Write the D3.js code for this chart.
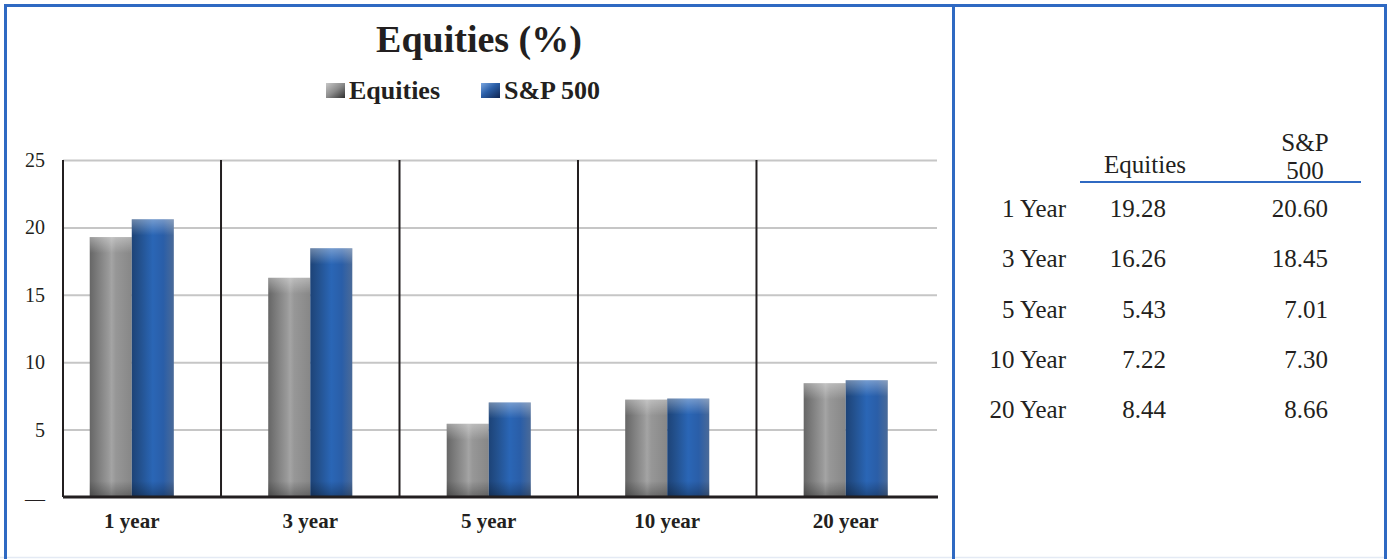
<!DOCTYPE html>
<html>
<head>
<meta charset="utf-8">
<script src="https://cdn.jsdelivr.net/npm/d3@7"></script>
<style>
  html, body { margin: 0; padding: 0; background: #ffffff; }
  svg { display: block; }
  svg text { font-family: "Liberation Serif", Tinos, "Times New Roman", Times, serif; fill: #231f20; }
</style>
</head>
<body>
<svg id="chart" width="1387" height="559"></svg>
<script>
// ---- data ----
const categories = ["1 year", "3 year", "5 year", "10 year", "20 year"];
const tableRows = ["1 Year", "3 Year", "5 Year", "10 Year", "20 Year"];
const seriesNames = ["Equities", "S&P 500"];
const equities = [19.28, 16.26, 5.43, 7.22, 8.44];
const sp500 = [20.60, 18.45, 7.01, 7.30, 8.66];
const yTicks = [0, 5, 10, 15, 20, 25];
const chartTitle = "Equities (%)";

const seriesValues = [equities, sp500];
const SERIF = "\"Liberation Serif\", Tinos, \"Times New Roman\", Times, serif";

const svg = d3.select("#chart").attr("font-family", SERIF);
const W = 1387, H = 559;

// ---- gradients ----
const defs = svg.append("defs");
function hGrad(id, stops) {
  const g = defs.append("linearGradient").attr("id", id)
    .attr("x1", "0").attr("y1", "0").attr("x2", "1").attr("y2", "0");
  stops.forEach(s => g.append("stop").attr("offset", s[0]).attr("stop-color", s[1]));
}
function vGrad(id, stops) {
  const g = defs.append("linearGradient").attr("id", id)
    .attr("x1", "0").attr("y1", "0").attr("x2", "0").attr("y2", "1");
  stops.forEach(s => g.append("stop").attr("offset", s[0]).attr("stop-color", s[1]).attr("stop-opacity", s[2]));
}
function dGrad(id, stops) {
  const g = defs.append("linearGradient").attr("id", id)
    .attr("x1", "0").attr("y1", "0").attr("x2", "1").attr("y2", "1");
  stops.forEach(s => g.append("stop").attr("offset", s[0]).attr("stop-color", s[1]));
}
hGrad("gGray", [[0, "#666666"], [0.18, "#7b7b7b"], [0.45, "#999999"], [0.52, "#a4a4a4"], [0.62, "#979797"], [1, "#878787"]]);
hGrad("gBlue", [[0, "#1d4377"], [0.2, "#23518e"], [0.5, "#2a66b6"], [0.75, "#2a5ea8"], [1, "#4a6a98"]]);
vGrad("gTopHi", [[0, "#ffffff", 0.35], [1, "#ffffff", 0]]);
vGrad("gBotDk", [[0, "#000000", 0], [1, "#000000", 0.3]]);
dGrad("gLegGray", [[0, "#c8c8c8"], [0.5, "#8a8a8a"], [1, "#2e2e2e"]]);
dGrad("gLegBlue", [[0, "#7aa6e0"], [0.45, "#2b5fa8"], [1, "#0f2450"]]);
const fills = ["url(#gGray)", "url(#gBlue)"];
const legendFills = ["url(#gLegGray)", "url(#gLegBlue)"];

// ---- frame ----
const frameColor = "#2f69c2";
svg.append("line").attr("x1", 0).attr("x2", W).attr("y1", 557.5).attr("y2", 557.5)
  .attr("stroke", "#e4eaf4").attr("stroke-width", 1.5);
svg.append("rect").attr("x", 5.5).attr("y", 5.5).attr("width", 1380).attr("height", 580)
  .attr("fill", "none").attr("stroke", frameColor).attr("stroke-width", 3);
svg.append("line").attr("x1", 953.5).attr("x2", 953.5).attr("y1", 5).attr("y2", H)
  .attr("stroke", frameColor).attr("stroke-width", 3);

// ---- chart ----
const plotL = 63, plotR = 937, plotT = 160, plotB = 497;
const y = d3.scaleLinear().domain([0, 25]).range([plotB, plotT]);
const x = d3.scaleBand().domain(categories).range([42.5, 935])
  .paddingInner(0.529).paddingOuter(0.2647);
const xs = d3.scaleBand().domain(seriesNames).range([0, x.bandwidth()]);

// gridlines
const grid = svg.append("g").attr("transform", `translate(${plotL},0)`)
  .call(d3.axisLeft(y).tickValues(yTicks.filter(d => d > 0)).tickSize(-(plotR - plotL)).tickFormat(""));
grid.select(".domain").remove();
grid.selectAll(".tick line").attr("stroke", "#c6c6c6").attr("stroke-width", 2);

// category dividers
const step = x.step();
svg.append("g").selectAll("line").data(categories.slice(0, -1)).join("line")
  .attr("x1", d => x(d) + x.bandwidth() / 2 + step / 2)
  .attr("x2", d => x(d) + x.bandwidth() / 2 + step / 2)
  .attr("y1", plotT).attr("y2", plotB)
  .attr("stroke", "#231f20").attr("stroke-width", 2);
svg.append("line").attr("x1", plotL).attr("x2", plotL).attr("y1", plotT).attr("y2", plotB)
  .attr("stroke", "#231f20").attr("stroke-width", 2);

// bars
const barData = [];
categories.forEach((c, i) => seriesNames.forEach((s, j) => barData.push({ c, s, j, v: seriesValues[j][i] })));
const bars = svg.append("g").selectAll("g").data(barData).join("g")
  .attr("transform", d => `translate(${x(d.c) + xs(d.s)},0)`);
bars.append("rect")
  .attr("x", 0).attr("width", xs.bandwidth())
  .attr("y", d => y(d.v)).attr("height", d => y(0) - y(d.v))
  .attr("fill", d => fills[d.j]);
bars.append("rect")
  .attr("x", 0).attr("width", xs.bandwidth())
  .attr("y", d => y(d.v)).attr("height", d => Math.min(16, y(0) - y(d.v)))
  .attr("fill", "url(#gTopHi)");
bars.append("rect")
  .attr("x", 0).attr("width", xs.bandwidth())
  .attr("y", d => y(0) - Math.min(16, y(0) - y(d.v))).attr("height", d => Math.min(16, y(0) - y(d.v)))
  .attr("fill", "url(#gBotDk)");

// baseline
svg.append("line").attr("x1", plotL).attr("x2", plotR + 1).attr("y1", plotB).attr("y2", plotB)
  .attr("stroke", "#231f20").attr("stroke-width", 3);

// y axis labels
const yAx = svg.append("g").attr("transform", "translate(45,0)")
  .call(d3.axisLeft(y).tickValues(yTicks).tickSize(0).tickPadding(0)
    .tickFormat(d => d === 0 ? "\u2014" : d));
yAx.attr("font-family", SERIF).attr("font-size", 20);
yAx.select(".domain").remove();
yAx.selectAll("text").attr("fill", "#231f20");
yAx.selectAll(".tick").filter(d => d === 0).select("text").attr("dy", "0.4em").attr("fill", "#555");

// x axis labels
const xAx = svg.append("g").attr("transform", `translate(0,${plotB})`)
  .call(d3.axisBottom(x).tickSize(0).tickPadding(16));
xAx.attr("font-family", SERIF).attr("font-size", 21).attr("font-weight", "bold");
xAx.select(".domain").remove();
xAx.selectAll("text").attr("fill", "#231f20");

// title
svg.append("text").attr("x", 479).attr("y", 52).attr("text-anchor", "middle")
  .attr("font-size", 38).attr("font-weight", "bold").text(chartTitle);

// legend
const legendX = [326, 481];
const leg = svg.append("g").selectAll("g").data(seriesNames).join("g")
  .attr("transform", (d, i) => `translate(${legendX[i]},0)`);
leg.append("rect").attr("x", 0).attr("y", 83).attr("width", 19).attr("height", 15)
  .attr("fill", (d, i) => legendFills[i]);
leg.append("text").attr("x", 23).attr("y", 99)
  .attr("font-size", 26).attr("font-weight", "bold").text(d => d);

// ---- table ----
const fmt = d3.format(".2f");
const colRight = [1166, 1328];
const tbl = svg.append("g").attr("font-size", 25);
tbl.append("text").attr("x", 1145).attr("y", 173).attr("text-anchor", "middle").text(seriesNames[0]);
tbl.append("text").attr("x", 1305).attr("y", 151).attr("text-anchor", "middle").text("S&P");
tbl.append("text").attr("x", 1305).attr("y", 179).attr("text-anchor", "middle").text("500");
tbl.append("line").attr("x1", 1080).attr("x2", 1361).attr("y1", 182).attr("y2", 182)
  .attr("stroke", frameColor).attr("stroke-width", 2);
const rowY = d3.scalePoint().domain(tableRows).range([217, 418]);
tableRows.forEach((r, i) => {
  tbl.append("text").attr("x", 1066).attr("y", rowY(r)).attr("text-anchor", "end").text(r);
  seriesValues.forEach((vals, j) => {
    tbl.append("text").attr("x", colRight[j]).attr("y", rowY(r)).attr("text-anchor", "end").text(fmt(vals[i]));
  });
});
</script>
</body>
</html>
